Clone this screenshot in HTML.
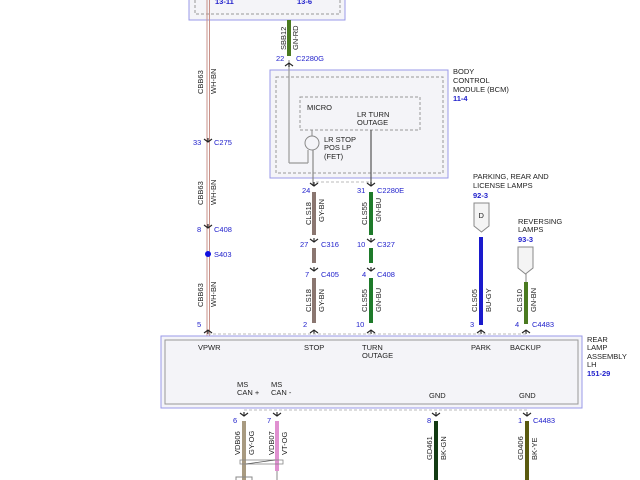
<!DOCTYPE html>
<html><head><style>
html,body{margin:0;padding:0;background:#fff;}
svg{display:block;}
text{font-family:"Liberation Sans",sans-serif;font-size:7.5px;fill:#222;}
.b{fill:#2222cc;}
.bb{fill:#2222cc;font-weight:bold;}
</style></head><body>
<svg width="640" height="480" viewBox="0 0 640 480" xmlns="http://www.w3.org/2000/svg">
<defs>
<g id="arr"><path d="M-4,-3 L0,0 L4,-3 M0,0 L0,-4" stroke="#222" stroke-width="1.1" fill="none"/></g>
</defs>
<rect x="189" y="-5" width="156" height="25" fill="#f4f4f8" stroke="#9a9ae8" stroke-width="1"/>
<rect x="195" y="-5" width="145" height="19" fill="none" stroke="#999" stroke-dasharray="3,2"/>
<text x="215" y="4" class="bb">13-11</text>
<text x="297" y="4" class="bb">13-6</text>
<rect x="270" y="70" width="178" height="108" fill="#f4f4f8" stroke="#9a9ae8"/>
<rect x="276" y="77" width="167" height="96" fill="none" stroke="#999" stroke-dasharray="3,2"/>
<rect x="300" y="97" width="120" height="33" fill="none" stroke="#999" stroke-dasharray="3,2"/>
<text x="307" y="110">MICRO</text>
<text x="357" y="117">LR TURN</text>
<text x="357" y="125">OUTAGE</text>
<text x="324" y="142">LR STOP</text>
<text x="324" y="150">POS LP</text>
<text x="324" y="159">(FET)</text>
<text x="453" y="74">BODY</text>
<text x="453" y="83">CONTROL</text>
<text x="453" y="92">MODULE (BCM)</text>
<text x="453" y="101" class="bb">11-4</text>
<rect x="287" y="20" width="4" height="36" fill="#4a7a20"/>
<line x1="289" y1="60" x2="289" y2="163" stroke="#999" stroke-width="1.2"/>
<line x1="289" y1="163" x2="308" y2="163" stroke="#999" stroke-width="1.2"/>
<line x1="308" y1="163" x2="308" y2="150" stroke="#999" stroke-width="1.2"/>
<circle cx="312" cy="143" r="7" fill="none" stroke="#888"/>
<line x1="312" y1="136" x2="312" y2="130" stroke="#888"/>
<use href="#arr" transform="translate(289,63) rotate(180)"/>
<text transform="translate(286,50) rotate(-90)">SBB12</text>
<text transform="translate(298,50) rotate(-90)">GN-RD</text>
<text x="276" y="61" class="b">22</text>
<text x="296" y="61" class="b">C2280G</text>
<line x1="207" y1="0" x2="207" y2="336" stroke="#c89088" stroke-width="1"/>
<line x1="209.5" y1="0" x2="209.5" y2="336" stroke="#c89088" stroke-width="1"/>
<text transform="translate(203,94) rotate(-90)">CBB63</text>
<text transform="translate(216,94) rotate(-90)">WH-BN</text>
<use href="#arr" transform="translate(208,142)"/>
<text x="193" y="145" class="b">33</text><text x="214" y="145" class="b">C275</text>
<text transform="translate(203,205) rotate(-90)">CBB63</text>
<text transform="translate(216,205) rotate(-90)">WH-BN</text>
<use href="#arr" transform="translate(208,228)"/>
<text x="197" y="232" class="b">8</text><text x="214" y="232" class="b">C408</text>
<circle cx="208" cy="254" r="3" fill="#1010e0"/>
<text x="214" y="257" class="b">S403</text>
<text transform="translate(203,307) rotate(-90)">CBB63</text>
<text transform="translate(216,307) rotate(-90)">WH-BN</text>
<use href="#arr" transform="translate(208,330) rotate(180)"/>
<text x="197" y="327" class="b">5</text>
<line x1="313" y1="150" x2="313" y2="186" stroke="#888" stroke-width="1.2"/>
<use href="#arr" transform="translate(314,186)"/>
<text x="302" y="193" class="b">24</text>
<rect x="312" y="192" width="4" height="43" fill="#8a7670"/>
<text transform="translate(311,225) rotate(-90)">CLS18</text>
<text transform="translate(324,222) rotate(-90)">GY-BN</text>
<use href="#arr" transform="translate(314,242)"/>
<text x="300" y="247" class="b">27</text><text x="321" y="247" class="b">C316</text>
<rect x="312" y="248" width="4" height="15" fill="#8a7670"/>
<use href="#arr" transform="translate(314,271)"/>
<text x="305" y="277" class="b">7</text><text x="321" y="277" class="b">C405</text>
<rect x="312" y="278" width="4" height="45" fill="#8a7670"/>
<text transform="translate(311,312) rotate(-90)">CLS18</text>
<text transform="translate(324,312) rotate(-90)">GY-BN</text>
<use href="#arr" transform="translate(314,330) rotate(180)"/>
<text x="303" y="327" class="b">2</text>
<line x1="371" y1="130" x2="371" y2="186" stroke="#555" stroke-width="1.2"/>
<line x1="316" y1="182" x2="371" y2="182" stroke="#bbb" stroke-dasharray="3,2"/>
<use href="#arr" transform="translate(371,186)"/>
<text x="357" y="193" class="b">31</text><text x="377" y="193" class="b">C2280E</text>
<rect x="369" y="192" width="4" height="43" fill="#1e7a2a"/>
<text transform="translate(367,225) rotate(-90)">CLS55</text>
<text transform="translate(381,222) rotate(-90)">GN-BU</text>
<use href="#arr" transform="translate(371,242)"/>
<text x="357" y="247" class="b">10</text><text x="377" y="247" class="b">C327</text>
<rect x="369" y="248" width="4" height="15" fill="#1e7a2a"/>
<use href="#arr" transform="translate(371,271)"/>
<text x="362" y="277" class="b">4</text><text x="377" y="277" class="b">C408</text>
<rect x="369" y="278" width="4" height="45" fill="#1e7a2a"/>
<text transform="translate(367,312) rotate(-90)">CLS55</text>
<text transform="translate(381,312) rotate(-90)">GN-BU</text>
<use href="#arr" transform="translate(371,330) rotate(180)"/>
<text x="356" y="327" class="b">10</text>
<text x="473" y="179">PARKING, REAR AND</text>
<text x="473" y="188">LICENSE LAMPS</text>
<text x="473" y="198" class="bb">92-3</text>
<path d="M474,203 L489,203 L489,226 L481.5,232 L474,226 Z" fill="#f4f4f4" stroke="#888"/>
<text x="478.5" y="218">D</text>
<rect x="479" y="237" width="4" height="88" fill="#1a1acc"/>
<text transform="translate(477,312) rotate(-90)">CLS05</text>
<text transform="translate(491,312) rotate(-90)">BU-GY</text>
<use href="#arr" transform="translate(481,330) rotate(180)"/>
<text x="470" y="327" class="b">3</text>
<text x="518" y="224">REVERSING</text>
<text x="518" y="232">LAMPS</text>
<text x="518" y="242" class="bb">93-3</text>
<path d="M518,247 L533,247 L533,268 L525.5,274 L518,268 Z" fill="#f4f4f4" stroke="#888"/>
<line x1="526" y1="274" x2="526" y2="282" stroke="#888"/>
<rect x="524" y="282" width="4" height="42" fill="#4a7a20"/>
<text transform="translate(522,312) rotate(-90)">CLS10</text>
<text transform="translate(536,312) rotate(-90)">GN-BN</text>
<use href="#arr" transform="translate(526,330) rotate(180)"/>
<text x="515" y="327" class="b">4</text><text x="532" y="327" class="b">C4483</text>
<rect x="161" y="336" width="421" height="72" fill="#f4f4f8" stroke="#9a9ae8"/>
<rect x="165" y="340" width="413" height="64" fill="none" stroke="#999"/>
<line x1="208" y1="334" x2="526" y2="334" stroke="#bbb" stroke-dasharray="3,2"/>
<line x1="244" y1="410" x2="527" y2="410" stroke="#bbb" stroke-dasharray="3,2"/>
<text x="198" y="350">VPWR</text>
<text x="304" y="350">STOP</text>
<text x="362" y="350">TURN</text>
<text x="362" y="358">OUTAGE</text>
<text x="471" y="350">PARK</text>
<text x="510" y="350">BACKUP</text>
<text x="237" y="387">MS</text><text x="237" y="395">CAN +</text>
<text x="271" y="387">MS</text><text x="271" y="395">CAN -</text>
<text x="429" y="398">GND</text>
<text x="519" y="398">GND</text>
<text x="587" y="342">REAR</text>
<text x="587" y="350">LAMP</text>
<text x="587" y="359">ASSEMBLY</text>
<text x="587" y="367">LH</text>
<text x="587" y="376" class="bb">151-29</text>
<use href="#arr" transform="translate(244,416)"/>
<use href="#arr" transform="translate(277,416)"/>
<use href="#arr" transform="translate(436,416)"/>
<use href="#arr" transform="translate(527,416)"/>
<text x="233" y="423" class="b">6</text>
<text x="267" y="423" class="b">7</text>
<text x="427" y="423" class="b">8</text>
<text x="518" y="423" class="b">1</text><text x="533" y="423" class="b">C4483</text>
<rect x="242" y="421" width="4" height="60" fill="#a89a80"/>
<rect x="275" y="421" width="4" height="50" fill="#e090d0"/>
<line x1="277" y1="471" x2="277" y2="480" stroke="#888"/>
<rect x="434" y="421" width="4" height="60" fill="#123a12"/>
<rect x="525" y="421" width="4" height="60" fill="#5a5a10"/>
<text transform="translate(240,455) rotate(-90)">VDB06</text>
<text transform="translate(254,455) rotate(-90)">GY-OG</text>
<text transform="translate(274,455) rotate(-90)">VDB07</text>
<text transform="translate(287,455) rotate(-90)">VT-OG</text>
<text transform="translate(432,460) rotate(-90)">GD461</text>
<text transform="translate(446,460) rotate(-90)">BK-GN</text>
<text transform="translate(523,460) rotate(-90)">GD406</text>
<text transform="translate(537,460) rotate(-90)">BK-YE</text>
<rect x="240" y="460" width="43" height="4" fill="none" stroke="#888" stroke-width="0.8"/>
<line x1="246" y1="464" x2="275" y2="460" stroke="#555" stroke-width="0.8"/>
<rect x="236" y="477" width="16" height="6" fill="none" stroke="#888"/>
</svg>
</body></html>
